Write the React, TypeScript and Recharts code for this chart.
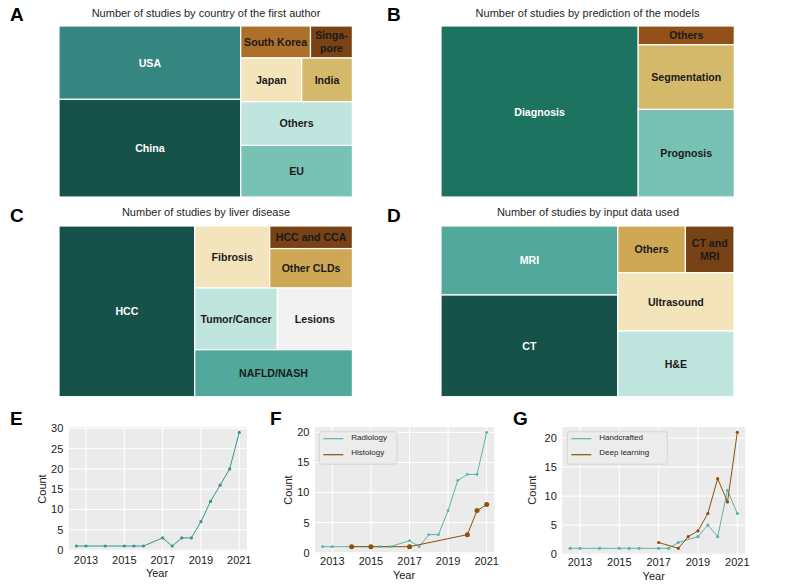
import React from 'react';
import { Treemap, LineChart, Line, XAxis, YAxis, CartesianGrid } from 'recharts';

// A - country of the first author (largest first, like squarify)
const countryNames = ['China', 'USA', 'EU', 'Others', 'Japan', 'India', 'South Korea', 'Singa-\npore'];
const countryCounts = [40, 30, 13, 11, 6, 5, 5, 3];

// B - prediction of the models
const predictionNames = ['Diagnosis', 'Prognosis', 'Segmentation', 'Others'];
const predictionCounts = [76, 19, 14, 4];

// C - liver disease
const diseaseNames = ['HCC', 'NAFLD/NASH', 'Tumor/Cancer', 'Lesions', 'Fibrosis', 'Other CLDs', 'HCC and CCA'];
const diseaseCounts = [50, 16, 11, 10, 10, 7, 4];

// D - input data used
const inputNames = ['CT', 'MRI', 'H&E', 'Ultrasound', 'Others', 'CT and\nMRI'];
const inputCounts = [40, 27, 17, 15, 7, 5];

// E/F/G - studies per year
const yearTicks = [2013, 2015, 2017, 2019, 2021];

const allYears = [2012.5, 2013, 2014, 2015, 2015.5, 2016, 2017, 2017.5, 2018, 2018.5, 2019, 2019.5, 2020, 2020.5, 2021];
const allCounts = [1, 1, 1, 1, 1, 1, 3, 1, 3, 3, 7, 12, 16, 20, 29];

const radiologyYears = [2012.5, 2013, 2015.5, 2016, 2017, 2017.5, 2018, 2018.5, 2019, 2019.5, 2020, 2020.5, 2021];
const radiologyCounts = [1, 1, 1, 1, 2, 1, 3, 3, 7, 12, 13, 13, 20];
const histologyYears = [2014, 2015, 2017, 2020, 2020.5, 2021];
const histologyCounts = [1, 1, 1, 3, 7, 8];

const handcraftedYears = [2012.5, 2013, 2014, 2015, 2015.5, 2016, 2017, 2017.5, 2018, 2019, 2019.5, 2020, 2020.5, 2021];
const handcraftedCounts = [1, 1, 1, 1, 1, 1, 1, 1, 2, 3, 5, 3, 11, 7];
const deepYears = [2017, 2018, 2018.5, 2019, 2019.5, 2020, 2020.5, 2021];
const deepCounts = [2, 1, 3, 4, 7, 13, 9, 21];

// styles
const countryColors = ['#16514a', '#358580', '#77c2b4', '#c0e5de', '#f3e4bb', '#d5b96b', '#ad6f2a', '#7a4315'];
const predictionColors = ['#1c735f', '#77c2b4', '#d5b96b', '#925119'];
const diseaseColors = ['#16514a', '#52a89b', '#c0e5de', '#f2f2f2', '#f3e4bb', '#cfa856', '#774215'];
const inputColors = ['#16514a', '#52a89b', '#c0e5de', '#f3e4bb', '#cfa856', '#774215'];
const darkTiles = ['China', 'USA', 'Diagnosis', 'HCC', 'CT', 'MRI'];

const FONT = '"Liberation Sans", Arial, Helvetica, sans-serif';
const TEAL = '#5ab4ac';
const DARK_TEAL = '#35978f';
const BROWN = '#8c510a';

// squarify works in its own normalised box, then gets stretched to the axes
const LAYOUT_W = 1001;
const LAYOUT_H = 1000;

const toTiles = (names: string[], counts: number[], colors: string[]) =>
  names.map((name, i) => ({ name, value: counts[i], tone: colors[i] }));

const toPoints = (years: number[], counts: number[]) =>
  years.map((year, i) => ({ year, count: counts[i] }));

function TreemapPanel({ left, top, width, height, data }: any) {
  const sx = width / LAYOUT_W;
  const sy = height / LAYOUT_H;
  const tile = (p: any) => {
    if (p.depth !== 1) return <g />;
    const rx = p.x * sx;
    const ry = (LAYOUT_H - p.y - p.height) * sy; // y axis points up, like matplotlib
    const rw = p.width * sx;
    const rh = p.height * sy;
    const lines = String(p.name).split('\n');
    const ink = darkTiles.includes(p.name) ? '#ffffff' : '#1a1a1a';
    return (
      <g>
        <rect x={rx} y={ry} width={rw} height={rh} fill={p.tone} stroke="#ffffff" strokeWidth={1.2} />
        {lines.map((line, k) => (
          <text
            key={k}
            x={rx + rw / 2}
            y={ry + rh / 2 + (k - (lines.length - 1) / 2) * 13}
            textAnchor="middle"
            dominantBaseline="central"
            fontFamily={FONT}
            fontWeight="bold"
            fontSize={10.6}
            fill={ink}
          >
            {line}
          </text>
        ))}
      </g>
    );
  };
  return (
    <div style={{ position: 'absolute', left, top, width, height, overflow: 'hidden' }}>
      <Treemap
        width={LAYOUT_W}
        height={LAYOUT_H}
        data={data}
        dataKey="value"
        aspectRatio={1}
        isAnimationActive={false}
        content={tile}
      />
    </div>
  );
}

function TrendPanel({ left, top, width, height, margin, yDomain, yTicks, series, xGap }: any) {
  const tick = { fontSize: 11, fill: '#1a1a1a', fontFamily: FONT };
  return (
    <div style={{ position: 'absolute', left, top }}>
      <LineChart width={width} height={height} margin={margin}>
        <CartesianGrid fill="#ebebeb" fillOpacity={1} stroke="#ffffff" strokeWidth={1} />
        <XAxis
          type="number"
          dataKey="year"
          domain={[2012.075, 2021.425]}
          ticks={yearTicks}
          interval={0}
          allowDataOverflow
          axisLine={false}
          tickLine={false}
          tickSize={1}
          tickMargin={xGap}
          height={20}
          tick={tick}
        />
        <YAxis
          type="number"
          domain={yDomain}
          ticks={yTicks}
          interval={0}
          allowDataOverflow
          axisLine={false}
          tickLine={false}
          tickSize={1}
          tickMargin={4}
          width={30}
          tick={tick}
        />
        {series.map((s: any) => (
          <Line
            key={s.name}
            data={s.data}
            dataKey="count"
            name={s.name}
            type="linear"
            stroke={s.color}
            strokeWidth={1}
            dot={{ r: s.r, fill: s.color, stroke: s.color, strokeWidth: 0 }}
            activeDot={false}
            isAnimationActive={false}
          />
        ))}
      </LineChart>
    </div>
  );
}

function LegendBox({ x, y, w, items }: any) {
  return (
    <g>
      <rect x={x} y={y} width={w} height={32.5} rx={2.5} fill="#ececec" stroke="#cfcfcf" strokeWidth={0.8} />
      {items.map((it: any, i: number) => (
        <g key={it.name}>
          <line x1={x + 4} x2={x + 24} y1={y + 7 + i * 16} y2={y + 7 + i * 16} stroke={it.color} strokeWidth={1.2} />
          <text x={x + 32} y={y + 6 + i * 15} fontSize={8} fontFamily={FONT} fill="#262626" dominantBaseline="central">
            {it.name}
          </text>
        </g>
      ))}
    </g>
  );
}

export default function App() {
  const radiology = { name: 'Radiology', color: TEAL, r: 1.4, data: toPoints(radiologyYears, radiologyCounts) };
  const histology = { name: 'Histology', color: BROWN, r: 2.5, data: toPoints(histologyYears, histologyCounts) };
  const handcrafted = { name: 'Handcrafted', color: TEAL, r: 1.6, data: toPoints(handcraftedYears, handcraftedCounts) };
  const deep = { name: 'Deep learning', color: BROWN, r: 1.6, data: toPoints(deepYears, deepCounts) };

  const titleStyle = { fontFamily: FONT, fontSize: 11, fill: '#262626' };
  const letterStyle = { fontFamily: FONT, fontSize: 19, fontWeight: 'bold' as const, fill: '#000000' };
  const axisStyle = { fontFamily: FONT, fontSize: 11, fill: '#1a1a1a' };

  return (
    <div style={{ position: 'absolute', left: 0, top: 0, width: 787, height: 588, background: '#ffffff', overflow: 'hidden' }}>
      <TreemapPanel left={59.3} top={26} width={293.4} height={171} data={toTiles(countryNames, countryCounts, countryColors)} />
      <TreemapPanel left={441} top={26} width={293.3} height={171} data={toTiles(predictionNames, predictionCounts, predictionColors)} />
      <TreemapPanel left={59.3} top={226} width={293.4} height={170.7} data={toTiles(diseaseNames, diseaseCounts, diseaseColors)} />
      <TreemapPanel left={441.3} top={226} width={293} height={170.7} data={toTiles(inputNames, inputCounts, inputColors)} />

      <TrendPanel
        left={20}
        top={410}
        width={237}
        height={175}
        margin={{ left: 18.3, top: 16.7, right: 9.6, bottom: 13.3 }}
        yDomain={[-0.4, 30.4]}
        yTicks={[0, 5, 10, 15, 20, 25, 30]}
        xGap={3}
        series={[{ name: 'All', color: DARK_TEAL, r: 1.6, data: toPoints(allYears, allCounts) }]}
      />
      <TrendPanel
        left={270}
        top={410}
        width={235}
        height={175}
        margin={{ left: 14.5, top: 16.6, right: 10.1, bottom: 11.1 }}
        yDomain={[-0.2, 20.95]}
        yTicks={[0, 5, 10, 15, 20]}
        xGap={2.5}
        series={[radiology, histology]}
      />
      <TrendPanel
        left={525}
        top={410}
        width={232}
        height={175}
        margin={{ left: 6.8, top: 16.5, right: 11.3, bottom: 10.9 }}
        yDomain={[0, 22]}
        yTicks={[0, 5, 10, 15, 20]}
        xGap={3.5}
        series={[handcrafted, deep]}
      />

      <svg width={787} height={588} style={{ position: 'absolute', left: 0, top: 0, pointerEvents: 'none' }}>
        <text x={10} y={21} {...letterStyle}>A</text>
        <text x={387} y={21} {...letterStyle}>B</text>
        <text x={10} y={221.5} {...letterStyle}>C</text>
        <text x={387} y={221.5} {...letterStyle}>D</text>
        <text x={10} y={424.5} {...letterStyle}>E</text>
        <text x={270} y={424.5} {...letterStyle}>F</text>
        <text x={513} y={424.5} {...letterStyle}>G</text>

        <text x={206} y={17} textAnchor="middle" {...titleStyle}>Number of studies by country of the first author</text>
        <text x={587.5} y={17} textAnchor="middle" {...titleStyle}>Number of studies by prediction of the models</text>
        <text x={206} y={216.3} textAnchor="middle" {...titleStyle}>Number of studies by liver disease</text>
        <text x={588} y={216.3} textAnchor="middle" {...titleStyle}>Number of studies by input data used</text>

        <text transform="translate(41.7,489) rotate(-90)" textAnchor="middle" dominantBaseline="central" {...axisStyle}>Count</text>
        <text x={157} y={573} textAnchor="middle" dominantBaseline="central" {...axisStyle}>Year</text>
        <text transform="translate(288,490) rotate(-90)" textAnchor="middle" dominantBaseline="central" {...axisStyle}>Count</text>
        <text x={404} y={575} textAnchor="middle" dominantBaseline="central" {...axisStyle}>Year</text>
        <text transform="translate(531.7,490) rotate(-90)" textAnchor="middle" dominantBaseline="central" {...axisStyle}>Count</text>
        <text x={653.7} y={575.5} textAnchor="middle" dominantBaseline="central" {...axisStyle}>Year</text>

        <LegendBox x={319.3} y={431.7} w={77.7} items={[radiology, histology]} />
        <LegendBox x={567.3} y={431.7} w={100} items={[handcrafted, deep]} />
      </svg>
    </div>
  );
}
